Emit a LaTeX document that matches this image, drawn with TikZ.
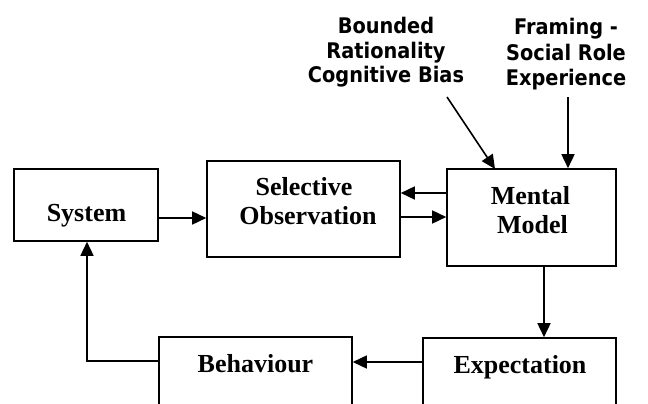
\documentclass[tikz,border=0pt]{standalone}
\usepackage{fontspec}
\setmainfont{Liberation Serif}
\newfontfamily\notefont[FakeStretch=0.9]{DejaVu Sans}
\usetikzlibrary{arrows.meta}

\tikzset{
  box/.style={draw, line width=1.6pt, rectangle, inner sep=0pt},
  boxtext/.style={font=\fontsize{26}{28}\selectfont\bfseries, inner sep=0pt, anchor=base},
  notetext/.style={font=\notefont\fontsize{21.5}{24}\selectfont\bfseries, inner sep=0pt, anchor=base},
  arr/.style={line width=1.6pt, -{Triangle[length=14pt,width=13pt]}}
}

\begin{document}
\begin{tikzpicture}[x=1pt, y=-1pt]
  \useasboundingbox (0,0) rectangle (648,404);
  \clip (0,0) rectangle (648,404);

  % boxes
  \node[box, minimum width=144pt, minimum height=72pt] (sys) at (86,205) {};
  \node[box, minimum width=193pt, minimum height=96pt] (obs) at (303.5,209) {};
  \node[box, minimum width=169pt, minimum height=97pt] (mm) at (531.5,217.5) {};
  \node[box, minimum width=193pt, minimum height=90pt] (beh) at (255.5,382) {};
  \node[box, minimum width=193pt, minimum height=90pt] (exp) at (519.5,383) {};

  % box captions
  \node[boxtext] (sysA) at (86.5,221) {System};
  \node[boxtext] (obsA) at (304,195) {Selective};
  \node[boxtext] (obsB) at (308,224) {Observation};
  \node[boxtext] (mmA) at (530.5,204) {Mental};
  \node[boxtext] (mmB) at (532.5,233) {Model};
  \node[boxtext] (behA) at (255.5,372) {Behaviour};
  \node[boxtext] (expA) at (520,373) {Expectation};

  % influences on the mental model
  \node[notetext] (bndA) at (386,34) {Bounded};
  \node[notetext] (bndB) at (386,58.5) {Rationality};
  \node[notetext] (bndC) at (386,83) {Cognitive Bias};
  \node[notetext] (frmA) at (566,35) {Framing -};
  \node[notetext] (frmB) at (566,60) {Social Role};
  \node[notetext] (frmC) at (566,85) {Experience};

  \coordinate (bndEnd) at (447,97);
  \coordinate (bndTip) at (495,169);
  \coordinate (frmEnd) at (568,97);
  \coordinate (retX) at (87,300);

  % connectors
  \draw[arr] ([yshift=-13pt]sys.east) -- ([yshift=-13pt]sys.east -| obs.west);
  \draw[arr] ([yshift=24.5pt]mm.west) -- ([yshift=24.5pt]mm.west -| obs.east);
  \draw[arr] ([yshift=-8pt]obs.east) -- ([yshift=-8pt]obs.east -| mm.west);
  \draw[arr] (bndEnd) -- (bndTip);
  \draw[arr] (frmEnd) -- (frmEnd |- mm.north);
  \draw[arr] ([xshift=12.5pt]mm.south) -- ([xshift=12.5pt]mm.south |- exp.north);
  \draw[arr] ([yshift=21pt]exp.west) -- ([yshift=21pt]exp.west -| beh.east);
  \draw[arr] ([yshift=21pt]beh.west) -| (retX |- sys.south);
\end{tikzpicture}
\end{document}
